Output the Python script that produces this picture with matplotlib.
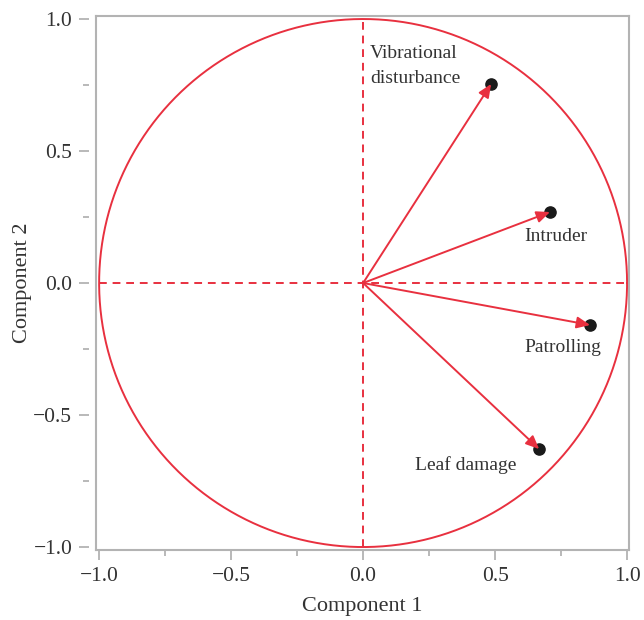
import numpy as np
import matplotlib.pyplot as plt
from matplotlib.ticker import MultipleLocator, FuncFormatter

# loadings
variables = ["Vibrational\ndisturbance", "Intruder", "Patrolling", "Leaf damage"]
comp1 = [0.485, 0.708, 0.86, 0.667]
comp2 = [0.754, 0.269, -0.159, -0.629]

red = "#e8303f"
grey = "#b3b3b3"
txt = "#333333"

plt.rcParams['font.family'] = ['Liberation Serif', 'DejaVu Serif']

fig = plt.figure(figsize=(6.44, 6.20), dpi=100)
ax = fig.add_axes([0.149, 0.113, 0.828, 0.861])

# unit circle + axes through origin
t = np.linspace(0, 2 * np.pi, 400)
ax.plot(np.cos(t), np.sin(t), color=red, lw=1.4, zorder=2)
ax.plot([-1, 1], [0, 0], color=red, lw=1.4, ls=(0, (4, 3)), zorder=2)
ax.plot([0, 0], [-1, 1], color=red, lw=1.4, ls=(0, (4, 3)), zorder=2)

ax.scatter(comp1, comp2, s=65, color="#1a1a1a", zorder=3)
for x, y in zip(comp1, comp2):
    ax.annotate("", xy=(x, y), xytext=(0, 0),
                arrowprops=dict(arrowstyle="-|>,head_length=0.8,head_width=0.35",
                                color=red, lw=1.4, shrinkA=0, shrinkB=0),
                zorder=4)

# labels (offsets from each point)
ax.text(comp1[0] - 0.458, comp2[0] + 0.068, variables[0], ha="left", va="center",
        fontsize=14, color=txt, linespacing=1.55, multialignment="left")
ax.text(comp1[1] + 0.023, comp2[1] - 0.091, variables[1], ha="center", va="center",
        fontsize=14, color=txt)
ax.text(comp1[2] - 0.102, comp2[2] - 0.085, variables[2], ha="center", va="center",
        fontsize=14, color=txt)
ax.text(comp1[3] - 0.277, comp2[3] - 0.06, variables[3], ha="center", va="center",
        fontsize=14, color=txt)

ax.set_xlim(-1.012, 1.008)
ax.set_ylim(-1.011, 1.011)

ax.xaxis.set_major_locator(MultipleLocator(0.5))
ax.xaxis.set_minor_locator(MultipleLocator(0.25))
ax.yaxis.set_major_locator(MultipleLocator(0.5))
ax.yaxis.set_minor_locator(MultipleLocator(0.25))
fmt = FuncFormatter(lambda v, p: f"{v:.1f}".replace("-", "\u2212"))
ax.xaxis.set_major_formatter(fmt)
ax.yaxis.set_major_formatter(fmt)

for s in ax.spines.values():
    s.set_color(grey)
    s.set_linewidth(1.5)
# detached left ticks
ax.spines['left'].set_position(('outward', 5))
ax.spines['left'].set_visible(False)
ax.plot([0, 0], [0, 1], transform=ax.transAxes, color=grey, lw=1.5, clip_on=False)

ax.tick_params(which="major", length=7, width=1.3, color=grey, labelsize=15.5,
               labelcolor=txt, pad=5)
ax.tick_params(which="minor", length=4, width=1.3, color=grey)

ax.set_xlabel("Component 1", fontsize=16, color=txt, labelpad=8)
ax.set_ylabel("Component 2", fontsize=16, color=txt, labelpad=1)

fig.savefig("out.png", dpi=100)
